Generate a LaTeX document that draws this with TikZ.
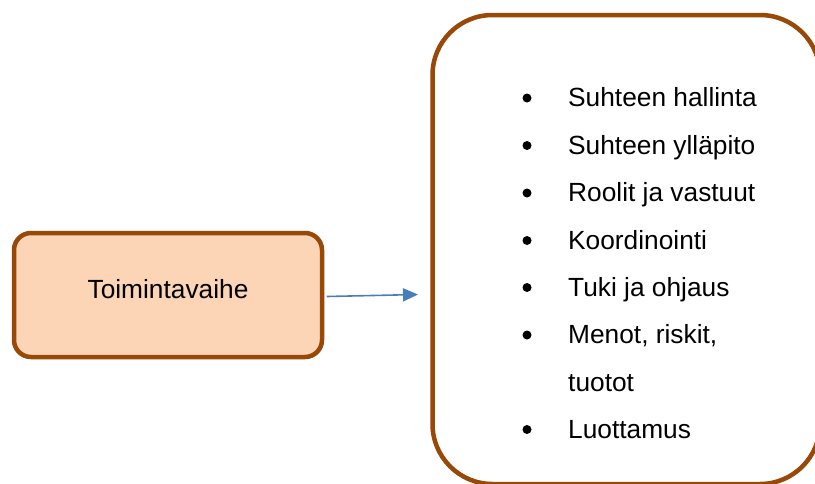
\documentclass[tikz,border=0pt]{standalone}
\usepackage{fontspec}
\setmainfont{Liberation Sans}
\usetikzlibrary{arrows.meta}
\definecolor{boxedge}{HTML}{984807}
\definecolor{boxfill}{HTML}{FBD5B5}
\definecolor{arrowblue}{HTML}{4A7EBB}
\begin{document}
\begin{tikzpicture}[x=1pt,y=-1pt,
  phasebox/.style={draw=boxedge, fill=boxfill, line width=4.5pt, rounded corners=17pt,
    minimum width=308pt, minimum height=124pt, inner sep=0pt,
    text height=19pt, text depth=13pt, font=\fontsize{26.3}{31}\selectfont},
  listbox/.style={draw=boxedge, line width=4.5pt, rounded corners=60pt,
    minimum width=387.5pt, minimum height=469pt, inner sep=0pt},
  item/.style={anchor=base west, inner sep=0pt, font=\fontsize{26.3}{31}\selectfont},
  dot/.style={fill=black, circle, inner sep=0pt, minimum size=9pt},
  link/.style={draw=arrowblue, line width=1.6pt, -{Triangle[length=15pt,width=13pt]}}]
\useasboundingbox (0,0) rectangle (815,483);

% phase box
\node[phasebox] (phase) at (168,295) {Toimintavaihe};

% activity list box (runs past the right and bottom edges)
\node[listbox] (list) at (626.25,249.5) {};

% list entries (baselines)
\foreach \n/\y/\t in {1/106.5/Suhteen hallinta, 2/154/Suhteen ylläpito,
    3/201.5/Roolit ja vastuut, 4/249/Koordinointi, 5/296/Tuki ja ohjaus,
    6/343.5/{Menot, riskit,}, 7/391/tuotot, 8/438/Luottamus}
  \node[item] (t\n) at (568,\y) {\t};
\foreach \n/\y in {1/106.5, 2/154, 3/201.5, 4/249, 5/296, 6/343.5, 8/438}
  \node[dot] (b\n) at (527,\y-8.5) {};

% connector
\coordinate (tip) at (418,294.5);
\draw[link] ([xshift=2.5pt,yshift=-1.5pt]phase.east) -- (tip);
\end{tikzpicture}
\end{document}
